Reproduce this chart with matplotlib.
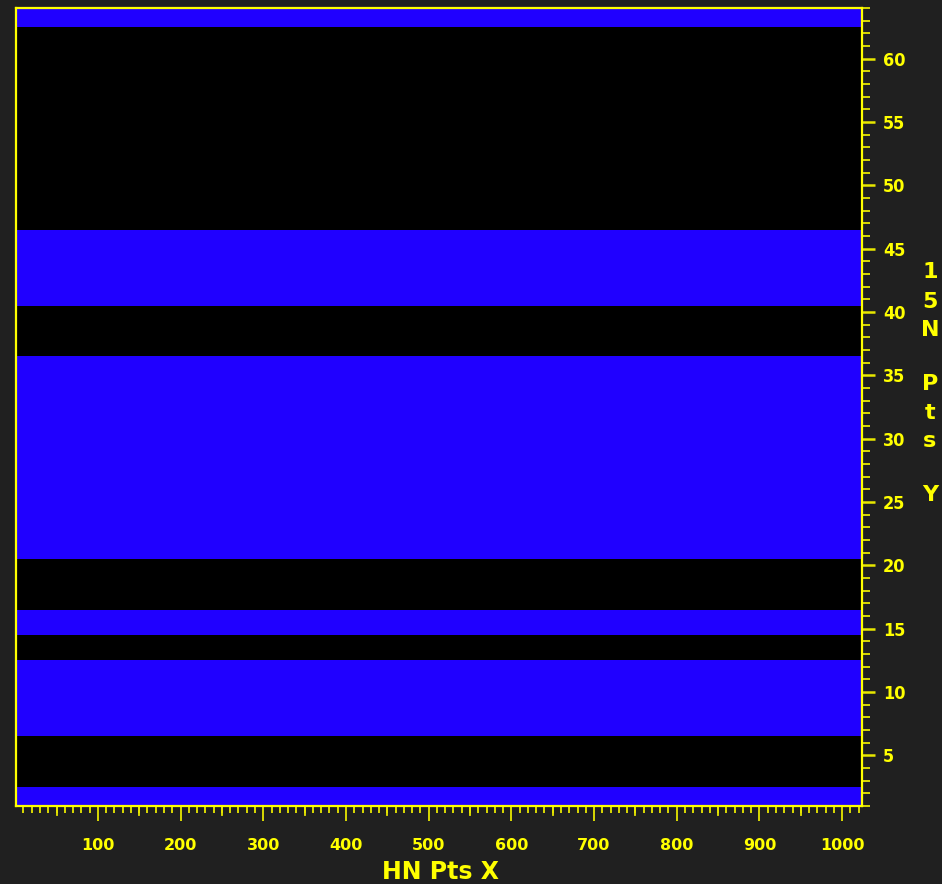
import numpy as np
import matplotlib
matplotlib.use("Agg")
import matplotlib.pyplot as plt
from matplotlib.ticker import MultipleLocator

# Row state for each 15N increment (1 = sampled / blue, 0 = skipped / black)
rows = list(range(1, 65))
sampled = ([1, 1] + [0] * 4 + [1] * 6 + [0] * 2 + [1] * 2 + [0] * 4 +
           [1] * 16 + [0] * 4 + [1] * 6 + [0] * 16 + [1] * 2)
hn_points = 1024

x_major = [100, 200, 300, 400, 500, 600, 700, 800, 900, 1000]
y_major = [5, 10, 15, 20, 25, 30, 35, 40, 45, 50, 55, 60]

bg = "#202020"
yellow = "#ffff00"
tick_yellow = "#e8e800"

fig = plt.figure(figsize=(9.42, 8.84), dpi=100, facecolor=bg)
ax = fig.add_axes([16 / 942, 78 / 884, 846 / 942, 798 / 884])
ax.set_facecolor("black")

grid = np.array(sampled, dtype=float)[:, None] * np.ones((1, 2))
x_edges = np.array([0.5, hn_points + 0.5])
y_edges = np.arange(len(rows) + 1) + 0.5
cmap = matplotlib.colors.ListedColormap(["#000000", "#2000ff"])
ax.pcolormesh(np.linspace(x_edges[0], x_edges[1], 3), y_edges, grid,
              cmap=cmap, vmin=0, vmax=1, shading="flat")

ax.set_xlim(1, hn_points)
ax.set_ylim(1, 64)

for s in ax.spines.values():
    s.set_color(yellow)
    s.set_linewidth(1.6)

# x axis: ticks every 10, medium every 50, labels every 100
ax.set_xticks(x_major)
ax.set_xticklabels([str(v) for v in x_major])
ax.xaxis.set_minor_locator(MultipleLocator(10))
ax.tick_params(axis="x", which="major", direction="out", length=11, width=1.3,
               colors=tick_yellow, labelcolor=yellow, labelsize=11.5, pad=12)
ax.tick_params(axis="x", which="minor", direction="out", length=5, width=1.3,
               colors=tick_yellow)
for v in range(50, hn_points, 100):
    ax.plot([v, v], [0, -0.011], transform=ax.get_xaxis_transform(),
            color=tick_yellow, lw=1.3, clip_on=False)
for lab in ax.get_xticklabels():
    lab.set_fontweight("bold")

# y axis on the right
ax.yaxis.tick_right()
ax.set_yticks(y_major)
ax.set_yticklabels([str(v) for v in y_major])
ax.yaxis.set_minor_locator(MultipleLocator(1))
ax.tick_params(axis="y", which="major", direction="out", length=9, width=1.8,
               colors=tick_yellow, labelcolor=yellow, labelsize=13, pad=6,
               left=False, right=True)
ax.tick_params(axis="y", which="minor", direction="out", length=6, width=1.3,
               colors=tick_yellow, left=False, right=True)
for lab in ax.get_yticklabels():
    lab.set_fontweight("bold")
    lab.set_fontstretch("condensed")

fig.text(440 / 942, 1 - 872 / 884, "HN Pts X", color=yellow, fontsize=17,
         fontweight="bold", ha="center", va="center")

ylabel_chars = ["1", "5", "N", "", "P", "t", "s", "", "Y"]
ylabel_y = [272, 302, 330, 357, 384, 413, 441, 468, 495]
for ch, yy in zip(ylabel_chars, ylabel_y):
    if ch:
        fig.text(930 / 942, 1 - yy / 884, ch, color=yellow, fontsize=16,
                 fontweight="bold", ha="center", va="center")

fig.savefig("out.png", dpi=100, facecolor=bg)
